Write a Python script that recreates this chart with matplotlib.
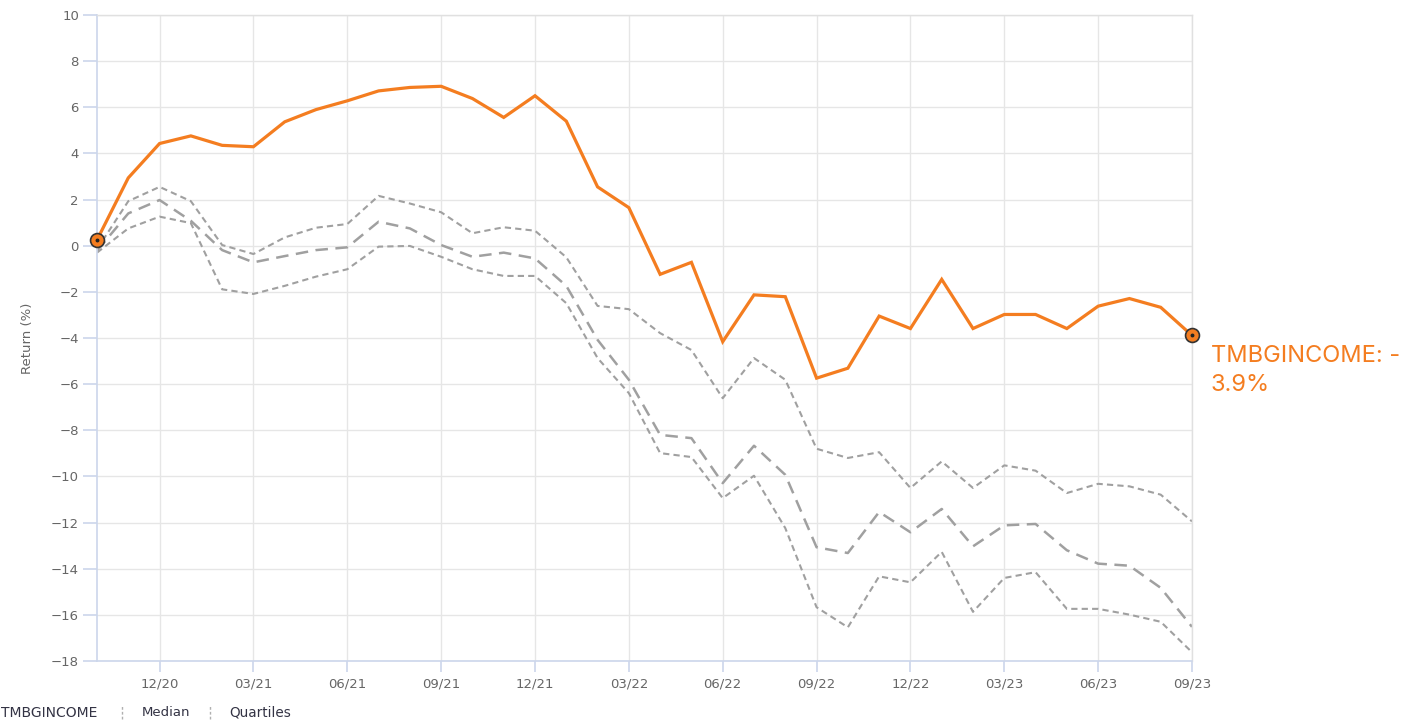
import numpy as np
import matplotlib.pyplot as plt
from matplotlib.lines import Line2D

# monthly points, 10/20 .. 09/23
months = list(range(36))
tick_pos = [2, 5, 8, 11, 14, 17, 20, 23, 26, 29, 32, 35]
tick_labels = ["12/20", "03/21", "06/21", "09/21", "12/21", "03/22",
               "06/22", "09/22", "12/22", "03/23", "06/23", "09/23"]

fund = [0.25, 2.94, 4.43, 4.76, 4.35, 4.29, 5.37, 5.9, 6.28, 6.71, 6.86, 6.91,
        6.38, 5.56, 6.5, 5.4, 2.55, 1.65, -1.24, -0.72, -4.16, -2.13, -2.21, -5.74,
        -5.31, -3.05, -3.59, -1.46, -3.59, -2.98, -2.98, -3.59, -2.62, -2.29, -2.67, -3.89]

upper_q = [-0.15, 1.93, 2.55, 1.93, 0.03, -0.36, 0.36, 0.78, 0.94, 2.16, 1.83, 1.45,
           0.54, 0.8, 0.65, -0.5, -2.61, -2.75, -3.79, -4.52, -6.61, -4.87, -5.81, -8.8,
           -9.2, -8.95, -10.5, -9.35, -10.5, -9.52, -9.75, -10.72, -10.32, -10.43, -10.79, -11.95]

median = [-0.22, 1.4, 1.98, 1.08, -0.19, -0.72, -0.45, -0.19, -0.07, 1.04, 0.75, 0.03,
          -0.48, -0.3, -0.55, -1.74, -4.08, -5.81, -8.2, -8.34, -10.29, -8.67, -9.93, -13.07,
          -13.32, -11.54, -12.42, -11.41, -13.03, -12.12, -12.06, -13.2, -13.78, -13.87, -14.83, -16.52]

lower_q = [-0.3, 0.75, 1.26, 0.98, -1.89, -2.09, -1.74, -1.34, -1.02, -0.04, -0.01, -0.48,
           -1.02, -1.31, -1.31, -2.49, -4.87, -6.39, -8.99, -9.16, -10.94, -9.97, -12.24, -15.67,
           -16.54, -14.33, -14.59, -13.27, -15.87, -14.4, -14.15, -15.74, -15.74, -15.99, -16.3, -17.62]

fund_name = "TMBGINCOME"
orange = "#f47d20"
gray = "#a0a0a0"
axis_blue = "#ccd6eb"

fig = plt.figure(figsize=(14.09, 7.21), dpi=100)
ax = fig.add_axes([97 / 1409, 60 / 721, (1192 - 97) / 1409, (661 - 15) / 721])

ax.plot(months, upper_q, color=gray, lw=1.5, dashes=(3, 2), zorder=2)
ax.plot(months, lower_q, color=gray, lw=1.5, dashes=(3, 2), zorder=2)
ax.plot(months, median, color=gray, lw=1.8, dashes=(5, 3), zorder=2)
ax.plot(months, fund, color=orange, lw=2.3, zorder=3, solid_joinstyle="miter")

for i in (0, len(months) - 1):
    ax.plot(months[i], fund[i], "o", ms=10, mfc=orange, mec="#333333", mew=1.2,
            zorder=4, clip_on=False)
    ax.plot(months[i], fund[i], "o", ms=1.8, color="#222222", zorder=5, clip_on=False)

ax.set_xlim(0, 35)
ax.set_ylim(-18, 10)
ax.set_yticks(range(-18, 11, 2))
ax.set_yticklabels([str(v).replace("-", "\u2212") for v in range(-18, 11, 2)])
ax.set_xticks(tick_pos)
ax.set_xticklabels(tick_labels)

ax.grid(True, color="#e6e6e6", lw=1)
ax.set_axisbelow(True)
for side in ("top", "right"):
    ax.spines[side].set_color("#e0e0e0")
    ax.spines[side].set_linewidth(1)
ax.spines["left"].set_color(axis_blue)
ax.spines["bottom"].set_color(axis_blue)
ax.spines["left"].set_linewidth(1.2)
ax.spines["bottom"].set_linewidth(1.2)
ax.tick_params(axis="y", length=10, width=1.2, color=axis_blue, labelsize=9.5,
               labelcolor="#666666", pad=3)
ax.tick_params(axis="x", length=8, width=1.2, color=axis_blue, labelsize=9.5,
               labelcolor="#666666", pad=4)
ax.set_ylabel("Return (%)", color="#666666", fontsize=9.5, labelpad=12)

ax.text(35.6, fund[-1] - 0.4, f"{fund_name}: -\n3.9%", color=orange, fontsize=17,
        family=["Inter", "DejaVu Sans"], va="top", ha="left", linespacing=1.45,
        clip_on=False)

# legend row at the bottom
ly = 8 / 721
fig.text(1 / 1409, ly, fund_name, fontsize=10, color="#333344", va="center")
fig.text(142 / 1409, ly, "Median", fontsize=9.5, color="#333344", va="center")
fig.text(229 / 1409, ly, "Quartiles", fontsize=9.8, color="#333344", va="center")
for xs in (122, 210):
    fig.add_artist(Line2D([xs / 1409, xs / 1409], [2 / 721, 15 / 721], color="#b0b0b0",
                          lw=1, dashes=(2, 1.5)))

fig.savefig("out.png", dpi=100)
